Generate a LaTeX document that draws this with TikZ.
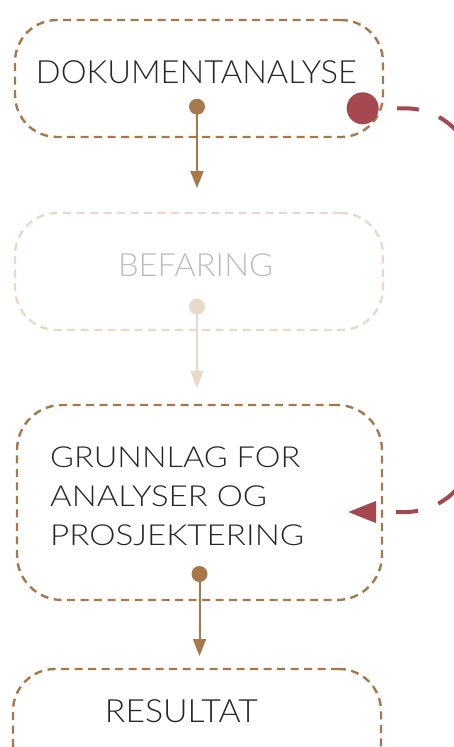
\documentclass[tikz,border=0pt]{standalone}
\usepackage{fontspec}
\usepackage{graphicx}
\setmainfont{Lato Light}
\usetikzlibrary{arrows.meta}
\definecolor{bronze}{HTML}{A6784A}
\definecolor{paleBronze}{HTML}{E8DACB}
\definecolor{wine}{HTML}{A54850}
\definecolor{ink}{HTML}{262626}
\definecolor{mist}{HTML}{BDBDBD}
% stretch a label horizontally to a given width, keeping its height
\newcommand{\spread}[2]{\resizebox{#1}{\height}{#2}}
\tikzset{
  stage/.style={draw=bronze, line width=2.4pt, dash pattern=on 8pt off 5.5pt,
    rounded corners=42pt, minimum width=368pt, minimum height=117pt, inner sep=0pt},
  stagelabel/.style={font=\fontsize{32}{38}\selectfont, text=ink, anchor=base, inner sep=0pt},
  linelabel/.style={stagelabel, anchor=base west, font=\fontsize{29}{35}\selectfont},
  pin/.style={circle, fill=bronze, minimum size=16pt, inner sep=0pt},
  flow/.style={draw=bronze, line width=2pt, -{Triangle[length=17pt,width=13pt]}},
}
\begin{document}
\begin{tikzpicture}[x=1pt, y=-1pt]
  \useasboundingbox (0,0) rectangle (454,747);
  \clip (0,0) rectangle (454,747);

  % stages
  \node[stage] (s1) at (199,78.5) {};
  \node[stage, draw=paleBronze] (s2) at (199,271.5) {};
  \node[stage, minimum width=365pt, minimum height=195pt, rounded corners=45pt] (s3) at (199.5,502.5) {};
  \node[stage] (s4) at (197,727.5) {};

  % labels
  \node[stagelabel] (l1) at (196.5,83) {\spread{321pt}{DOKUMENTANALYSE}};
  \node[stagelabel, text=mist] (l2) at (195.5,276) {\spread{155pt}{BEFARING}};
  \node[linelabel] (l3a) at (50,467) {\spread{250pt}{GRUNNLAG FOR}};
  \node[linelabel] (l3b) at (50,506) {\spread{217pt}{ANALYSER OG}};
  \node[linelabel] (l3c) at (50,545) {\spread{254pt}{PROSJEKTERING}};
  \node[stagelabel] (l4) at (181.5,722) {\spread{153pt}{RESULTAT}};

  % downward flow
  \node[pin] (p1) at (197,106.7) {};
  \coordinate (t1) at (197,188);
  \draw[flow] (p1.center) -- (t1);

  \node[pin, fill=paleBronze] (p2) at (197,306.7) {};
  \coordinate (t2) at (197,388);
  \draw[flow, draw=paleBronze, fill=paleBronze] (p2.center) -- (t2);

  \node[pin] (p3) at (199.5,574) {};
  \coordinate (t3) at (199.5,656);
  \draw[flow] (p3.center) -- (t3);

  % feedback loop
  \coordinate (rt) at (348,512);
  \draw[wine, line width=4pt, dash pattern=on 22pt off 21.5pt, dash phase=9.2pt,
        rounded corners=70pt, -{Triangle[length=28pt,width=21pt]}]
    (362.7,108.3) -- (475,108.3) -- (475,512) -- (rt);
  \node[circle, fill=wine, minimum size=32pt, inner sep=0pt] (rd) at (362.7,108.3) {};
\end{tikzpicture}
\end{document}
